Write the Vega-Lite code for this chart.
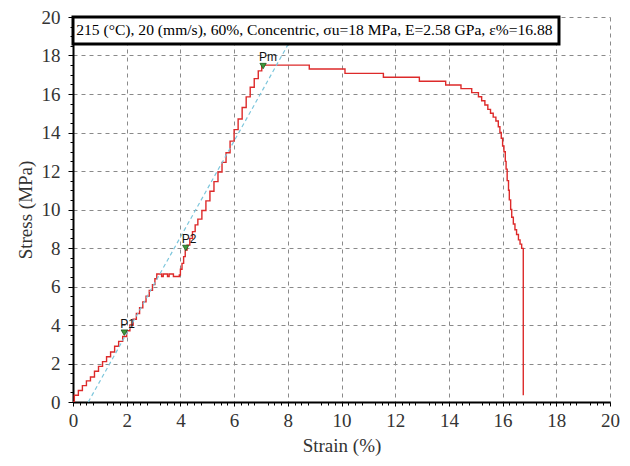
{
  "$schema": "https://vega.github.io/schema/vega-lite/v6.json",
  "width": 537,
  "height": 385,
  "autosize": {"type": "none"},
  "padding": {"left": 73, "top": 17, "right": 20, "bottom": 64},
  "background": "white",
  "config": {
    "view": {"stroke": null},
    "axis": {"labelFont": "Liberation Serif", "labelFontSize": 19, "labelColor": "#333",
      "titleFont": "Liberation Serif", "titleFontSize": 19, "titleFontWeight": "normal", "titleColor": "#333"}
  },
  "datasets": {
    "curve": [
      {"strain": 0, "stress": 0}, {"strain": 0.05, "stress": 0.35}, {"strain": 0.2, "stress": 0.6}, {"strain": 0.35, "stress": 0.85},
      {"strain": 0.5, "stress": 1.1}, {"strain": 0.65, "stress": 1.3}, {"strain": 0.8, "stress": 1.6}, {"strain": 0.95, "stress": 1.85},
      {"strain": 1.1, "stress": 2.1}, {"strain": 1.25, "stress": 2.35}, {"strain": 1.4, "stress": 2.6}, {"strain": 1.55, "stress": 2.9},
      {"strain": 1.7, "stress": 3.15}, {"strain": 1.85, "stress": 3.4}, {"strain": 2.0, "stress": 3.7}, {"strain": 2.12, "stress": 4.0},
      {"strain": 2.24, "stress": 4.3}, {"strain": 2.36, "stress": 4.6}, {"strain": 2.48, "stress": 4.9}, {"strain": 2.6, "stress": 5.2},
      {"strain": 2.72, "stress": 5.5}, {"strain": 2.84, "stress": 5.8}, {"strain": 2.96, "stress": 6.1}, {"strain": 3.05, "stress": 6.4},
      {"strain": 3.12, "stress": 6.65}, {"strain": 3.3, "stress": 6.52}, {"strain": 3.36, "stress": 6.65}, {"strain": 3.52, "stress": 6.52},
      {"strain": 3.58, "stress": 6.65}, {"strain": 3.74, "stress": 6.52}, {"strain": 3.96, "stress": 6.6}, {"strain": 4.0, "stress": 6.9},
      {"strain": 4.06, "stress": 7.2}, {"strain": 4.12, "stress": 7.55}, {"strain": 4.18, "stress": 7.9}, {"strain": 4.25, "stress": 8.15},
      {"strain": 4.35, "stress": 8.5}, {"strain": 4.45, "stress": 8.85}, {"strain": 4.55, "stress": 9.2}, {"strain": 4.65, "stress": 9.5},
      {"strain": 4.8, "stress": 9.95}, {"strain": 4.95, "stress": 10.45}, {"strain": 5.1, "stress": 10.95}, {"strain": 5.25, "stress": 11.45},
      {"strain": 5.4, "stress": 11.95}, {"strain": 5.55, "stress": 12.45}, {"strain": 5.7, "stress": 12.95}, {"strain": 5.85, "stress": 13.55},
      {"strain": 6.0, "stress": 14.15}, {"strain": 6.15, "stress": 14.7}, {"strain": 6.3, "stress": 15.3}, {"strain": 6.45, "stress": 15.85},
      {"strain": 6.6, "stress": 16.35}, {"strain": 6.75, "stress": 16.8}, {"strain": 6.9, "stress": 17.2}, {"strain": 7.03, "stress": 17.5},
      {"strain": 8.8, "stress": 17.3}, {"strain": 10.13, "stress": 17.07}, {"strain": 11.56, "stress": 16.87}, {"strain": 12.9, "stress": 16.66},
      {"strain": 13.88, "stress": 16.47}, {"strain": 14.45, "stress": 16.28}, {"strain": 14.85, "stress": 16.07}, {"strain": 15.1, "stress": 15.86},
      {"strain": 15.22, "stress": 15.65}, {"strain": 15.34, "stress": 15.43}, {"strain": 15.45, "stress": 15.2}, {"strain": 15.55, "stress": 15.0},
      {"strain": 15.65, "stress": 14.8}, {"strain": 15.75, "stress": 14.6}, {"strain": 15.84, "stress": 14.3}, {"strain": 15.9, "stress": 14.0},
      {"strain": 15.95, "stress": 13.7}, {"strain": 16.0, "stress": 13.3}, {"strain": 16.05, "stress": 13.0}, {"strain": 16.1, "stress": 12.5},
      {"strain": 16.13, "stress": 12.1}, {"strain": 16.17, "stress": 11.5}, {"strain": 16.22, "stress": 11.0}, {"strain": 16.25, "stress": 10.5},
      {"strain": 16.3, "stress": 10.0}, {"strain": 16.34, "stress": 9.6}, {"strain": 16.4, "stress": 9.25}, {"strain": 16.46, "stress": 8.95},
      {"strain": 16.52, "stress": 8.7}, {"strain": 16.59, "stress": 8.42}, {"strain": 16.65, "stress": 8.2}, {"strain": 16.71, "stress": 7.98},
      {"strain": 16.77, "stress": 7.0}, {"strain": 16.77, "stress": 0.35}
    ],
    "modulus": [
      {"strain": 0.57, "stress": 0},
      {"strain": 8.0, "stress": 18.55}
    ],
    "points": [
      {"strain": 1.91, "stress": 3.6, "label": "P1"},
      {"strain": 4.2, "stress": 8.0, "label": "P2"},
      {"strain": 7.08, "stress": 17.45, "label": "Pm"}
    ],
    "box": [
      {"x1": 0, "x2": 18.1, "y1": 18.6, "y2": 20, "tx": 0.12, "ty": 19.3,
       "text": "215 (°C), 20 (mm/s), 60%, Concentric, σu=18 MPa, E=2.58 GPa, ε%=16.88"}
    ]
  },
  "layer": [
    {
      "data": {"name": "curve"},
      "mark": {"type": "line", "interpolate": "step-after", "color": "#dd2a2a", "strokeWidth": 1.4, "clip": true},
      "encoding": {
        "x": {"field": "strain", "type": "quantitative", "scale": {"domain": [0, 20], "nice": false},
          "axis": {"title": "Strain (%)", "orient": "bottom", "values": [0, 2, 4, 6, 8, 10, 12, 14, 16, 18, 20], "grid": true,
            "gridDash": [4, 4], "gridColor": "#8a8a8a", "gridWidth": 1, "domainColor": "black", "domainWidth": 2,
            "tickColor": "black", "tickSize": 4, "tickWidth": 1, "labelFont": "Liberation Serif", "labelFontSize": 19,
            "labelColor": "#333", "labelPadding": 5, "labelOverlap": false, "titleFont": "Liberation Serif", "titleFontSize": 19,
            "titleFontWeight": "normal", "titleColor": "#333", "titlePadding": 6, "labelFlush": false}},
        "y": {"field": "stress", "type": "quantitative", "scale": {"domain": [0, 20], "nice": false},
          "axis": {"title": "Stress (MPa)", "orient": "left", "values": [0, 2, 4, 6, 8, 10, 12, 14, 16, 18, 20], "grid": true,
            "gridDash": [4, 4], "gridColor": "#8a8a8a", "gridWidth": 1, "domainColor": "black", "domainWidth": 2,
            "tickColor": "black", "tickSize": 5, "tickWidth": 1, "labelFont": "Liberation Serif", "labelFontSize": 19,
            "labelColor": "#333", "labelPadding": 8, "labelOverlap": false, "titleFont": "Liberation Serif", "titleFontSize": 19,
            "titleFontWeight": "normal", "titleColor": "#333", "titlePadding": 6, "labelFlush": false}}
      }
    },
    {
      "data": {"name": "modulus"},
      "mark": {"type": "line", "color": "#7cc6dc", "strokeWidth": 1.2, "strokeDash": [4, 3]},
      "encoding": {
        "x": {"field": "strain", "type": "quantitative",
          "axis": {"title": null, "orient": "bottom", "labels": false, "grid": false, "domain": false, "tickColor": "black", "tickSize": 3,
            "values": [0.25,0.5,0.75,1.25,1.5,1.75,2.25,2.5,2.75,3.25,3.5,3.75,4.25,4.5,4.75,5.25,5.5,5.75,6.25,6.5,6.75,7.25,7.5,7.75,8.25,8.5,8.75,9.25,9.5,9.75,10.25,10.5,10.75,11.25,11.5,11.75,12.25,12.5,12.75,13.25,13.5,13.75,14.25,14.5,14.75,15.25,15.5,15.75,16.25,16.5,16.75,17.25,17.5,17.75,18.25,18.5,18.75,19.25,19.5,19.75]}},
        "y": {"field": "stress", "type": "quantitative",
          "axis": {"title": null, "orient": "left", "labels": false, "grid": false, "domain": false, "tickColor": "black", "tickSize": 3,
            "values": [0.5,1,1.5,2.5,3,3.5,4.5,5,5.5,6.5,7,7.5,8.5,9,9.5,10.5,11,11.5,12.5,13,13.5,14.5,15,15.5,16.5,17,17.5,18.5,19,19.5]}}
      }
    },
    {
      "data": {"name": "points"},
      "mark": {"type": "point", "shape": "triangle-down", "size": 40, "filled": true, "fill": "#3e9a3a", "stroke": "#1f5a1f", "strokeWidth": 0.8, "opacity": 1},
      "encoding": {
        "x": {"field": "strain", "type": "quantitative", "axis": null},
        "y": {"field": "stress", "type": "quantitative", "axis": null}
      }
    },
    {
      "data": {"name": "points"},
      "mark": {"type": "text", "font": "Liberation Sans", "fontSize": 12, "color": "#111", "align": "left", "baseline": "bottom", "dx": -4, "dy": -2},
      "encoding": {
        "x": {"field": "strain", "type": "quantitative", "axis": null},
        "y": {"field": "stress", "type": "quantitative", "axis": null},
        "text": {"field": "label"}
      }
    },
    {
      "data": {"name": "box"},
      "mark": {"type": "rect", "fill": "white", "stroke": "black", "strokeWidth": 3},
      "encoding": {
        "x": {"field": "x1", "type": "quantitative", "axis": null},
        "x2": {"field": "x2"},
        "y": {"field": "y1", "type": "quantitative", "axis": null},
        "y2": {"field": "y2"}
      }
    },
    {
      "data": {"name": "box"},
      "mark": {"type": "text", "font": "Liberation Serif", "fontSize": 15.6, "color": "black", "align": "left", "baseline": "middle"},
      "encoding": {
        "x": {"field": "tx", "type": "quantitative", "axis": null},
        "y": {"field": "ty", "type": "quantitative", "axis": null},
        "text": {"field": "text"}
      }
    }
  ],
  "resolve": {"axis": {"x": "independent", "y": "independent"}}
}
